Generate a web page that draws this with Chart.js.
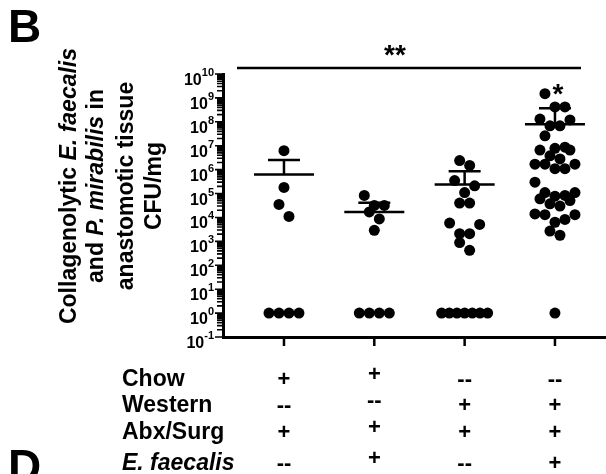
<!DOCTYPE html>
<html>
<head>
<meta charset="utf-8">
<script src="https://cdn.jsdelivr.net/npm/chart.js@4.4.0/dist/chart.umd.min.js"></script>
<style>
  html, body { margin: 0; padding: 0; background: #fff; }
</style>
</head>
<body>
<canvas id="myChart" width="606" height="474"></canvas>
<script>
// Groupes (positions sur l'axe x) et valeurs CFU/mg
const groups = [1, 2, 3, 4];

const chowAbx = [6.2e6, 1.8e5, 3.5e4, 1.1e4, 1, 1, 1, 1];
const chowAbxEf = [8.3e4, 3.2e4, 3.2e4, 1.7e4, 8.7e3, 2.9e3, 1, 1, 1, 1];
const westernAbx = [2.4e6, 1.5e6, 3.5e5, 2.1e5, 1.1e5, 4e4, 4e4, 5.1e3, 5.8e3, 2.1e3, 2.1e3, 890, 420,
  1, 1, 1, 1, 1, 1, 1];
const westernAbxEf = [1.5e9, 4.2e8, 4.2e8, 1.3e8, 1.2e8, 6.8e7, 6.8e7, 2.6e7, 8.7e6, 7.8e6, 6.6e6, 6.6e6,
  3.8e6, 2.8e6, 1.7e6, 1.7e6, 1.7e6, 1.1e6, 1.1e6, 3.0e5, 1.1e5, 1.1e5, 8.3e4, 7.8e4, 6.0e4, 5.1e4,
  3.7e4, 3.0e4, 1.4e4, 1.3e4, 1.3e4, 8.3e3, 6.3e3, 2.7e3, 1.8e3, 1];

// Moyenne et borne haute de l'erreur standard
const meanValues = [6.2e5, 1.7e4, 2.4e5, 8e7];
const semUpper = [2.5e6, 4.1e4, 8.5e5, 3.7e8];

// Graduations de l'axe y (exposants de 10)
const yExponents = [-1, 0, 1, 2, 3, 4, 5, 6, 7, 8, 9, 10];

// Tableau des conditions sous l'axe x
const rowLabels = ['Chow', 'Western', 'Abx/Surg', 'E. faecalis'];
const rowSigns = [
  ['+', '+', '--', '--'],
  ['--', '--', '+', '+'],
  ['+', '+', '+', '+'],
  ['--', '+', '--', '+']
];

const allSeries = [chowAbx, chowAbxEf, westernAbx, westernAbxEf];

const FONT = '"Liberation Sans", Arial, Helvetica, sans-serif';

// Disposition en essaim : rangées horizontales, valeurs basses au centre
function swarmPoints(points) {
  const items = points.slice().sort((a, b) => a.y - b.y);
  const rows = [];
  items.forEach(p => {
    const row = rows[rows.length - 1];
    if (row && p.y - row[0].y <= 14) {
      row.push(p);
    } else {
      rows.push([p]);
    }
  });
  rows.forEach(row => {
    const n = row.length;
    if (n < 2) return;
    const step = Math.min(10, 46 / (n - 1));
    let slots = [];
    for (let k = 0; k < n; k++) slots.push((k - (n - 1) / 2) * step);
    slots.sort((a, b) => Math.abs(a) - Math.abs(b) || b - a);
    row.sort((a, b) => b.y - a.y);
    row.forEach((p, i) => { p.x += slots[i]; });
  });
}

const extras = {
  id: 'extras',
  afterDatasetsUpdate(chart) {
    chart.data.datasets.forEach((ds, i) => {
      swarmPoints(chart.getDatasetMeta(i).data);
    });
  },
  beforeDatasetsDraw(chart) {
    const ctx = chart.ctx;
    const xs = chart.scales.x, ys = chart.scales.y;
    ctx.save();
    ctx.strokeStyle = '#000';
    ctx.lineWidth = 2.5;
    groups.forEach((g, i) => {
      const cx = xs.getPixelForValue(g);
      const ym = ys.getPixelForValue(meanValues[i]);
      const yu = ys.getPixelForValue(semUpper[i]);
      ctx.beginPath();
      ctx.moveTo(cx - 30, ym); ctx.lineTo(cx + 30, ym);
      ctx.moveTo(cx, ym); ctx.lineTo(cx, yu);
      ctx.moveTo(cx - 16, yu); ctx.lineTo(cx + 16, yu);
      ctx.stroke();
    });
    ctx.restore();
  },
  afterDraw(chart) {
    const ctx = chart.ctx;
    const xs = chart.scales.x, ys = chart.scales.y;
    const area = chart.chartArea;
    ctx.save();
    ctx.fillStyle = '#000';
    ctx.strokeStyle = '#000';

    // graduations majeures et mineures de l'axe y
    ctx.lineWidth = 1.6;
    ctx.beginPath();
    yExponents.forEach(e => {
      const y = ys.getPixelForValue(Math.pow(10, e));
      ctx.moveTo(area.left - 8, y); ctx.lineTo(area.left, y);
      if (e < 10) {
        for (let k = 2; k <= 9; k++) {
          const ym = ys.getPixelForValue(k * Math.pow(10, e));
          ctx.moveTo(area.left - 6, ym); ctx.lineTo(area.left, ym);
        }
      }
    });
    ctx.stroke();

    // étiquettes 10^n
    yExponents.forEach(e => {
      const y = ys.getPixelForValue(Math.pow(10, e));
      const right = area.left - 9;
      ctx.font = 'bold 11px ' + FONT;
      const sup = String(e);
      const wSup = ctx.measureText(sup).width;
      ctx.textAlign = 'left';
      ctx.textBaseline = 'alphabetic';
      ctx.fillText(sup, right - wSup, y + 2);
      ctx.font = 'bold 16px ' + FONT;
      ctx.textAlign = 'right';
      ctx.fillText('10', right - wSup, y + 11);
    });

    // graduations de l'axe x
    ctx.lineWidth = 2.5;
    ctx.beginPath();
    groups.forEach(g => {
      const x = xs.getPixelForValue(g);
      ctx.moveTo(x, area.bottom); ctx.lineTo(x, area.bottom + 9);
    });
    ctx.stroke();

    // ligne de significativité et étoiles
    ctx.beginPath();
    ctx.moveTo(237, 68); ctx.lineTo(581, 68);
    ctx.stroke();
    ctx.font = 'bold 28px ' + FONT;
    ctx.textAlign = 'center';
    ctx.fillText('**', 395, 64);
    ctx.fillText('*', 558, 103);

    // titre de l'axe y (texte tourné, parties en italique)
    const titleLines = [
      [['Collagenolytic ', false], ['E. faecalis', true]],
      [['and ', false], ['P. mirabilis', true], [' in', false]],
      [['anastomotic tissue', false]],
      [['CFU/mg', false]]
    ];
    const baselines = [76, 103, 133, 161];
    titleLines.forEach((parts, li) => {
      ctx.save();
      ctx.translate(baselines[li], 186);
      ctx.rotate(-Math.PI / 2);
      let total = 0;
      parts.forEach(p => {
        ctx.font = (p[1] ? 'italic ' : '') + 'bold 23px ' + FONT;
        total += ctx.measureText(p[0]).width;
      });
      let x = -total / 2;
      ctx.textAlign = 'left';
      parts.forEach(p => {
        ctx.font = (p[1] ? 'italic ' : '') + 'bold 23px ' + FONT;
        ctx.fillText(p[0], x, 0);
        x += ctx.measureText(p[0]).width;
      });
      ctx.restore();
    });

    // tableau des conditions
    const rowBase = [386, 412, 439, 470];
    const colShift = [0, -5, 0, 0];
    rowLabels.forEach((label, r) => {
      ctx.font = (r === 3 ? 'italic ' : '') + 'bold 23px ' + FONT;
      ctx.textAlign = 'left';
      ctx.fillText(label, 122, rowBase[r]);
      ctx.font = 'bold 22px ' + FONT;
      ctx.textAlign = 'center';
      rowSigns[r].forEach((s, c) => {
        ctx.fillText(s, xs.getPixelForValue(groups[c]), rowBase[r] + colShift[c]);
      });
    });

    // lettres des panneaux
    ctx.font = 'bold 46px ' + FONT;
    ctx.textAlign = 'left';
    ctx.fillText('B', 8, 42);
    ctx.fillText('D', 8, 482);
    ctx.restore();
  }
};

const datasets = allSeries.map((values, i) => ({
  data: values.map(v => ({ x: groups[i], y: v })),
  backgroundColor: '#000',
  borderWidth: 0,
  pointRadius: 5.5,
  clip: false
}));

let ctx = document.getElementById('myChart').getContext('2d');
let myChart = new Chart(ctx, {
  type: 'scatter',
  data: { datasets: datasets },
  options: {
    responsive: false,
    animation: false,
    events: [],
    layout: { autoPadding: false, padding: { left: 223, top: 74, right: 0, bottom: 137 } },
    plugins: { legend: { display: false }, tooltip: { enabled: false } },
    scales: {
      x: {
        type: 'linear',
        min: 0.325,
        max: 4.565,
        ticks: { display: false },
        grid: { display: false, drawTicks: false },
        border: { display: true, color: '#000', width: 3 }
      },
      y: {
        type: 'logarithmic',
        min: 0.1,
        max: 1e10,
        ticks: { display: false },
        grid: { display: false, drawTicks: false },
        border: { display: true, color: '#000', width: 3 }
      }
    }
  },
  plugins: [extras]
});
</script>
</body>
</html>
